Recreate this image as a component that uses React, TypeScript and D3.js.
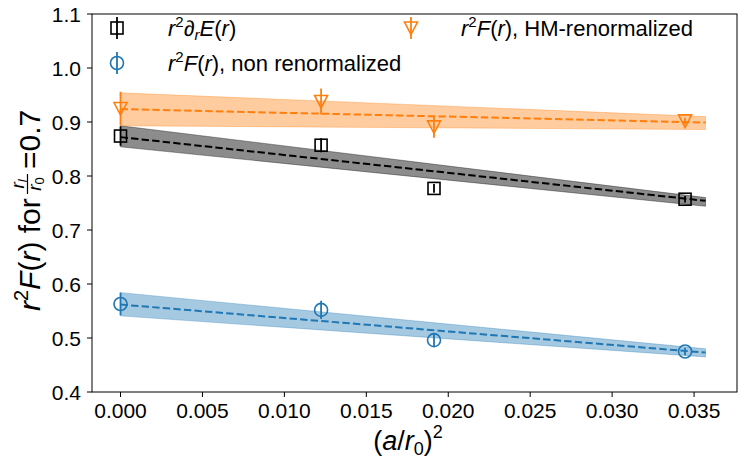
import React from "react";
import * as d3 from "d3";

const xs = [0, 0.01224, 0.01913, 0.03445];
const blackY = [0.874, 0.857, 0.777, 0.757];
const blackErr = [0.018, 0.013, 0.008, 0.006];
const orangeY = [0.925, 0.938, 0.891, 0.902];
const orangeErr = [0.031, 0.024, 0.02, 0.006];
const blueY = [0.563, 0.552, 0.496, 0.475];
const blueErr = [0.021, 0.017, 0.012, 0.007];

const fitX = [0, 0.0357];
const blackFit = [0.872, 0.754];
const blackLo = [0.854, 0.744];
const blackHi = [0.893, 0.76];
const orangeFit = [0.924, 0.899];
const orangeLo = [0.893, 0.886];
const orangeHi = [0.954, 0.91];
const blueFit = [0.562, 0.473];
const blueLo = [0.541, 0.465];
const blueHi = [0.584, 0.48];

const xTicks = [0, 0.005, 0.01, 0.015, 0.02, 0.025, 0.03, 0.035];
const yTicks = [0.4, 0.5, 0.6, 0.7, 0.8, 0.9, 1.0, 1.1];

const W = 747, H = 467;
const L = 92, R = 737, T = 14, B = 392;
const FONT = "'Liberation Sans', Arial, sans-serif";

const BLACK = "#000000";
const ORANGE = "#ff7f0e";
const BLUE = "#1f77b4";

export default function App() {
  const x = d3.scaleLinear().domain([-0.00174, 0.03762]).range([L, R]);
  const y = d3.scaleLinear().domain([0.4, 1.1]).range([B, T]);

  const band = (lo: number[], hi: number[]) =>
    d3.area<number>().x((_, i) => x(fitX[i])).y0((_, i) => y(lo[i])).y1((_, i) => y(hi[i]))(fitX as any) || "";
  const line = (v: number[]) =>
    d3.line<number>().x((_, i) => x(fitX[i])).y((d) => y(d))(v) || "";

  const series = [
    { c: BLACK, fill: "rgba(0,0,0,0.45)", ys: blackY, es: blackErr, fit: blackFit, lo: blackLo, hi: blackHi, m: "s" },
    { c: ORANGE, fill: "rgba(255,127,14,0.4)", ys: orangeY, es: orangeErr, fit: orangeFit, lo: orangeLo, hi: orangeHi, m: "v" },
    { c: BLUE, fill: "rgba(31,119,180,0.4)", ys: blueY, es: blueErr, fit: blueFit, lo: blueLo, hi: blueHi, m: "o" },
  ];

  const marker = (m: string, cx: number, cy: number, c: string, key?: any) => {
    if (m === "s")
      return <rect key={key} x={cx - 6} y={cy - 6} width={12} height={12} fill="none" stroke={c} strokeWidth={1.6} />;
    if (m === "o") return <circle key={key} cx={cx} cy={cy} r={6.5} fill="none" stroke={c} strokeWidth={1.6} />;
    return (
      <path key={key} d={`M${cx - 6.5},${cy - 6} L${cx + 6.5},${cy - 6} L${cx},${cy + 6.5} Z`} fill="none" stroke={c} strokeWidth={1.6} />
    );
  };

  const errPoint = (m: string, cx: number, cy: number, e1: number, e2: number, c: string, key: any) => (
    <g key={key}>
      <line x1={cx} x2={cx} y1={e1} y2={e2} stroke={c} strokeWidth={1.8} />
      {marker(m, cx, cy, c)}
    </g>
  );

  const legendItems = [
    { m: "s", c: BLACK, lx: 117, ly: 28 },
    { m: "v", c: ORANGE, lx: 411, ly: 28 },
    { m: "o", c: BLUE, lx: 117, ly: 63 },
  ];

  const it = { fontStyle: "italic" as const };

  return (
    <svg width={W} height={H} style={{ display: "block", position: "absolute", left: 0, top: 0 }} fontFamily={FONT}>
      <rect width={W} height={H} fill="white" />
      {series.map((s, k) => (
        <path key={"b" + k} d={band(s.lo, s.hi)} fill={s.fill} stroke={s.fill} strokeWidth={0.8} />
      ))}
      {series.map((s, k) => (
        <path key={"l" + k} d={line(s.fit)} fill="none" stroke={s.c} strokeWidth={2} strokeDasharray="7.4,3.2" />
      ))}
      {series.map((s, k) =>
        xs.map((xv, i) =>
          errPoint(s.m, x(xv), y(s.ys[i]), y(s.ys[i] + s.es[i]), y(s.ys[i] - s.es[i]), s.c, `p${k}-${i}`)
        )
      )}
      <rect x={L} y={T} width={R - L} height={B - T} fill="none" stroke="black" strokeWidth={1} />
      {xTicks.map((t) => (
        <g key={"xt" + t}>
          <line x1={x(t)} x2={x(t)} y1={B} y2={B + 5} stroke="black" />
          <text x={x(t)} y={418} textAnchor="middle" fontSize={21}>
            {t.toFixed(3)}
          </text>
        </g>
      ))}
      {yTicks.map((t) => (
        <g key={"yt" + t}>
          <line x1={L - 5} x2={L} y1={y(t)} y2={y(t)} stroke="black" />
          <text x={81} y={y(t) + 7.5} textAnchor="end" fontSize={21}>
            {t.toFixed(1)}
          </text>
        </g>
      ))}
      {/* x label */}
      <text x={408} y={450} textAnchor="middle" fontSize={27}>
        (<tspan {...it}>a</tspan>/<tspan {...it}>r</tspan>
        <tspan fontSize={18} dy={5}>0</tspan>
        <tspan dy={-5}>)</tspan>
        <tspan fontSize={18} dy={-12}>2</tspan>
      </text>
      {/* y label */}
      <g transform="translate(40,203) rotate(-90)">
        <text x={-108} y={0} textAnchor="start" fontSize={30}>
          <tspan {...it}>r</tspan>
          <tspan fontSize={20} dy={-12}>2</tspan>
          <tspan dy={12} {...it}>F</tspan>
          <tspan>(</tspan>
          <tspan {...it}>r</tspan>
          <tspan>) for</tspan>
        </text>
        <text x={19} y={-16} fontSize={19} textAnchor="middle">
          <tspan {...it}>r</tspan>
          <tspan fontSize={13} dy={3} {...it}>l</tspan>
        </text>
        <line x1={9} x2={29} y1={-12.5} y2={-12.5} stroke="black" strokeWidth={1.2} />
        <text x={19} y={1} fontSize={19} textAnchor="middle">
          <tspan {...it}>r</tspan>
          <tspan fontSize={13} dy={3}>0</tspan>
        </text>
        <text x={34} y={0} fontSize={30}>=0.7</text>
      </g>
      {/* legend */}
      {legendItems.map((li, k) => (
        <g key={"lg" + k}>
          <line x1={li.lx} x2={li.lx} y1={li.ly - 11} y2={li.ly + 11} stroke={li.c} strokeWidth={1.8} />
          {marker(li.m, li.lx, li.ly, li.c)}
        </g>
      ))}
      <text x={168} y={36} fontSize={22}>
        <tspan {...it}>r</tspan>
        <tspan fontSize={15} dy={-9}>2</tspan>
        <tspan dy={9} {...it}>∂</tspan>
        <tspan fontSize={15} dy={4} {...it}>r</tspan>
        <tspan dy={-4} {...it}>E</tspan>
        <tspan>(</tspan>
        <tspan {...it}>r</tspan>
        <tspan>)</tspan>
      </text>
      <text x={461} y={36} fontSize={22}>
        <tspan {...it}>r</tspan>
        <tspan fontSize={15} dy={-9}>2</tspan>
        <tspan dy={9} {...it}>F</tspan>
        <tspan>(</tspan>
        <tspan {...it}>r</tspan>
        <tspan>), HM-renormalized</tspan>
      </text>
      <text x={168} y={71} fontSize={22}>
        <tspan {...it}>r</tspan>
        <tspan fontSize={15} dy={-9}>2</tspan>
        <tspan dy={9} {...it}>F</tspan>
        <tspan>(</tspan>
        <tspan {...it}>r</tspan>
        <tspan>), non renormalized</tspan>
      </text>
    </svg>
  );
}
